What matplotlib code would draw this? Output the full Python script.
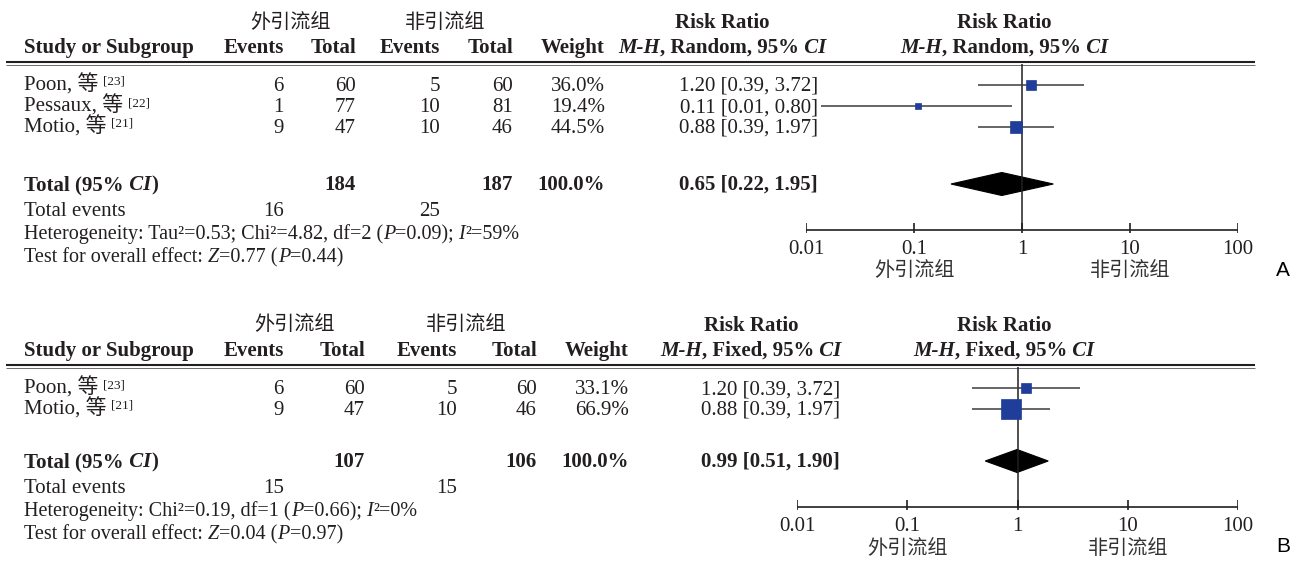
import matplotlib
matplotlib.use("Agg")
import matplotlib.pyplot as plt
from matplotlib.patches import Polygon

W, H = 1293, 566
INK = "#231f20"
BLUE = "#1f3d99"
SERIF = ["Liberation Serif", "Noto Sans CJK SC"]
CJK = ["Noto Sans CJK SC", "DejaVu Sans"]
FS = 15

# shared labels
groups = ["外引流组", "非引流组"]
col_names = ["Events", "Total", "Events", "Total", "Weight"]
ticks = [0.01, 0.1, 1, 10, 100]
tick_labels = ["0.01", "0.1", "1", "10", "100"]

# panel A (random effects)
a_study = ["Poon", "Pessaux", "Motio"]
a_ref = ["[23]", "[22]", "[21]"]
a_ev1 = [6, 1, 9]
a_n1 = [60, 77, 47]
a_ev2 = [5, 10, 10]
a_n2 = [60, 81, 46]
a_weight = [36.0, 19.4, 44.5]
a_rr = [1.20, 0.11, 0.88]
a_lo = [0.39, 0.0138, 0.39]
a_hi = [3.72, 0.80, 1.97]
a_total = [184, 187]
a_total_ev = [16, 25]
a_pool = [0.65, 0.22, 1.95]
a_het = [("Heterogeneity: Tau²=0.53; Chi²=4.82, df=2 (", ""), ("P", "i"),
         ("=0.09);", ""), (" I", "i"), ("²=59%", "")]
a_test = [("Test for overall effect:", ""), (" Z", "i"), ("=0.77 (", ""),
          ("P", "i"), ("=0.44)", "")]

# panel B (fixed effect)
b_study = ["Poon", "Motio"]
b_ref = ["[23]", "[21]"]
b_ev1 = [6, 9]
b_n1 = [60, 47]
b_ev2 = [5, 10]
b_n2 = [60, 46]
b_weight = [33.1, 66.9]
b_rr = [1.20, 0.88]
b_lo = [0.39, 0.39]
b_hi = [3.72, 1.97]
b_total = [107, 106]
b_total_ev = [15, 15]
b_pool = [0.99, 0.51, 1.90]
b_het = [("Heterogeneity: Chi²=0.19, df=1 (", ""), ("P", "i"),
         ("=0.66);", ""), (" I", "i"), ("²=0%", "")]
b_test = [("Test for overall effect:", ""), (" Z", "i"), ("=0.04 (", ""),
          ("P", "i"), ("=0.97)", "")]

fig = plt.figure(figsize=(W / 100, H / 100), dpi=100)
bg = fig.add_axes([0, 0, 1, 1])
bg.set_xlim(0, W)
bg.set_ylim(H, 0)
bg.axis("off")
R = fig.canvas.get_renderer()


def rich(x, y, parts, ha="left", size=FS, bold=False):
    # draws text pieces side by side, y is the row centre
    objs, cur = [], x
    for s, st in parts:
        t = bg.text(cur, y + 6, s, ha="left", va="baseline", size=size, color=INK,
                    family=SERIF, weight="bold" if (bold or "b" in st) else "normal",
                    style="italic" if "i" in st else "normal")
        cur += t.get_window_extent(R).width
        objs.append(t)
    shift = {"left": 0, "center": (cur - x) / 2, "right": cur - x}[ha]
    for t in objs:
        t.set_x(t.get_position()[0] - shift)


def panel(top, cx, ci_x, rr_cx, fx, method, study, ref, ev1, n1, ev2, n2, weight,
          rr, lo, hi, total, total_ev, pool, het, test, total_y, tag):
    y_h2 = top + 25
    y_line = top + 40
    rows = [top + 63 + 21 * i for i in range(len(study))]

    # column headers
    bg.text((cx[0] - 60 + cx[1]) / 2, top, groups[0], ha="center", va="center",
            family=CJK, size=14.5, color=INK)
    bg.text((cx[2] - 62 + cx[3]) / 2, top, groups[1], ha="center", va="center",
            family=CJK, size=14.5, color=INK)
    rich(24, y_h2, [("Study or Subgroup", "")], bold=True)
    for x, name in zip(cx, col_names):
        rich(x, y_h2, [(name, "")], ha="right", bold=True)
    for xc in (rr_cx, 1004):
        rich(xc, top, [("Risk Ratio", "")], ha="center", bold=True)
        rich(xc, y_h2, [("M-H", "i"), (", " + method + ", 95%", ""), (" CI", "i")],
             ha="center", bold=True)
    bg.plot([6, 1255], [y_line, y_line], color=INK, lw=1.5, solid_capstyle="butt")
    bg.plot([6, 1255], [y_line + 3, y_line + 3], color="#555555", lw=0.6,
            solid_capstyle="butt")

    # study rows
    for i, y in enumerate(rows):
        t = bg.text(24, y + 6, study[i] + ", 等", ha="left", va="baseline",
                    family=SERIF, size=FS, color=INK)
        x_end = 24 + t.get_window_extent(R).width
        bg.text(x_end + 5, y, ref[i], ha="left", va="baseline", family=SERIF,
                size=9.5, color=INK)
        vals = [str(ev1[i]), str(n1[i]), str(ev2[i]), str(n2[i]), f"{weight[i]:.1f}%"]
        for x, v in zip(cx, vals):
            rich(x, y, [(v, "")], ha="right")
        rich(ci_x, y, [(f"{rr[i]:.2f} [{lo[i]:.2f}, {hi[i]:.2f}]", "")], ha="right")

    # totals
    rich(24, total_y, [("Total (95%", ""), (" CI", "i"), (")", "")], bold=True)
    rich(cx[1], total_y, [(str(total[0]), "")], ha="right", bold=True)
    rich(cx[3], total_y, [(str(total[1]), "")], ha="right", bold=True)
    rich(cx[4], total_y, [("100.0%", "")], ha="right", bold=True)
    rich(ci_x, total_y, [(f"{pool[0]:.2f} [{pool[1]:.2f}, {pool[2]:.2f}]", "")],
         ha="right", bold=True)
    ev_y = total_y + 26
    rich(24, ev_y, [("Total events", "")])
    rich(cx[0], ev_y, [(str(total_ev[0]), "")], ha="right")
    rich(cx[2], ev_y, [(str(total_ev[1]), "")], ha="right")
    rich(24, total_y + 49, het, size=14.5)
    rich(24, total_y + 72, test, size=14.5)

    # forest plot
    ax_y = total_y + 46
    fa = fig.add_axes([fx[0] / W, 0, (fx[1] - fx[0]) / W, 1])
    fa.set_xscale("log")
    fa.set_xlim(0.01, 100)
    fa.set_ylim(H, 0)
    fa.axis("off")
    fa.vlines(1, y_line + 2, ax_y, color=INK, lw=1.1)
    fa.hlines(rows, lo, hi, color="#3c3c3c", lw=1.1)
    for i, y in enumerate(rows):
        side = 0.29 * weight[i] * 0.72
        fa.plot(rr[i], y, marker="s", ms=side, color=BLUE, mec=BLUE, mew=0.5)
    fa.add_patch(Polygon([(pool[1], total_y), (pool[0], total_y - 11.5),
                          (pool[2], total_y), (pool[0], total_y + 11.5)],
                         closed=True, fc="black", ec="black", lw=0.8))
    fa.hlines(ax_y, ticks[0], ticks[-1], color=INK, lw=1.2)
    fa.vlines(ticks, ax_y - 7, ax_y + 3, color=INK, lw=1.2)
    for t, lab in zip(ticks, tick_labels):
        fa.text(t, ax_y + 24, lab, ha="center", va="baseline", family=SERIF,
                size=FS, color=INK)
    fa.text(ticks[1], ax_y + 41, groups[0], ha="center", va="center", family=CJK,
            size=14.5, color="#333333", weight="light")
    fa.text(ticks[3], ax_y + 41, groups[1], ha="center", va="center", family=CJK,
            size=14.5, color="#333333", weight="light")
    bg.text(1283, ax_y + 40, tag, ha="center", va="center", family="Liberation Sans",
            size=15, color="black")


panel(22, [284, 356, 440, 513, 605], 818, 722, (806, 1238), "Random",
      a_study, a_ref, a_ev1, a_n1, a_ev2, a_n2, a_weight, a_rr, a_lo, a_hi,
      a_total, a_total_ev, a_pool, a_het, a_test, 184, "A")
panel(325, [284, 365, 457, 537, 629], 840, 751, (797, 1238), "Fixed",
      b_study, b_ref, b_ev1, b_n1, b_ev2, b_n2, b_weight, b_rr, b_lo, b_hi,
      b_total, b_total_ev, b_pool, b_het, b_test, 461, "B")

fig.savefig("out.png", dpi=100)
